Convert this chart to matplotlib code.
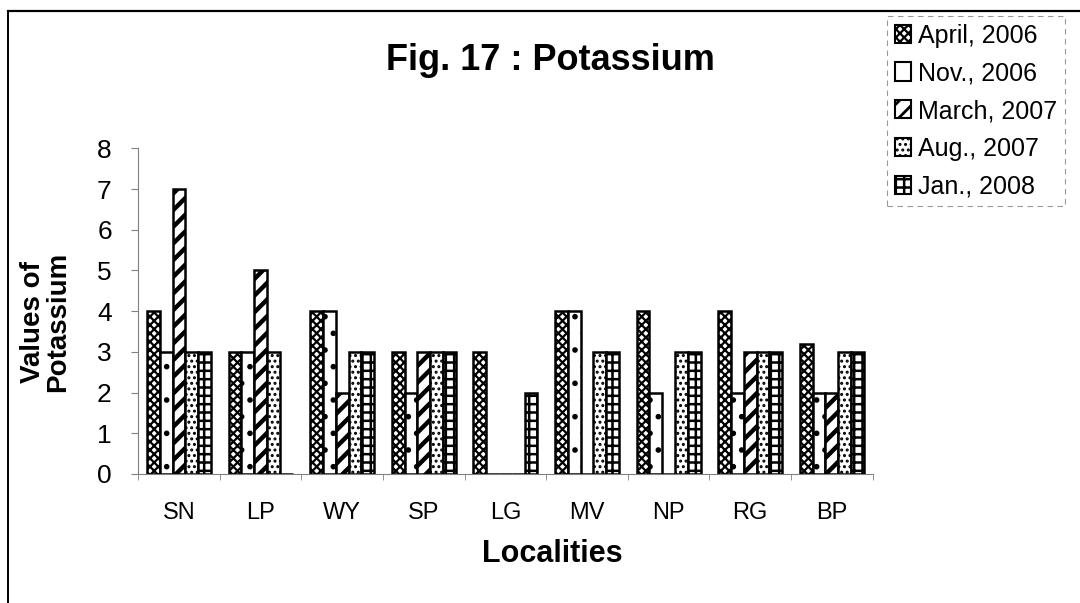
import numpy as np
import matplotlib.pyplot as plt

plt.rcParams['font.family'] = ['Liberation Sans', 'DejaVu Sans']
plt.rcParams['hatch.linewidth'] = 1.6

# data
localities = ['SN', 'LP', 'WY', 'SP', 'LG', 'MV', 'NP', 'RG', 'BP']
series = ['April, 2006', 'Nov., 2006', 'March, 2007', 'Aug., 2007', 'Jan., 2008']
april_2006 = [4, 3, 4, 3, 3, 4, 4, 4, 3.2]
nov_2006 = [3, 3, 4, 2, 0, 4, 2, 2, 2]
march_2007 = [7, 5, 2, 3, 0, 0, 0, 3, 2]
aug_2007 = [3, 3, 3, 3, 0, 3, 3, 3, 3]
jan_2008 = [3, 0, 3, 3, 2, 3, 3, 3, 3]
values = [april_2006, nov_2006, march_2007, aug_2007, jan_2008]
hatches = ['xxxx', '.', '//', '...', '++']
hatch_lw = [1.6, 1.6, 3.2, 1.4, 1.8]

fig = plt.figure(figsize=(10.8, 6.03), dpi=100)
ax = fig.add_axes([0.128, 0.214, 0.680, 0.540])

x = np.arange(len(localities))
w = 0.157
for i, (name, vals) in enumerate(zip(series, values)):
    bars = ax.bar(x + (i - 2) * w, vals, w, label=name, facecolor='white',
                  edgecolor='black', linewidth=1.8, hatch=hatches[i])
    for b in bars:
        try:
            b.set_hatch_linewidth(hatch_lw[i])
        except AttributeError:
            pass

ax.set_xlim(-0.5, len(localities) - 0.5)
ax.set_ylim(0, 8)
ax.set_yticks(range(9))
ax.set_xticks(x)
ax.set_xticklabels(localities, fontsize=17)
ax.set_xticks(np.arange(-0.5, len(localities), 1), minor=True)
ax.tick_params(axis='x', which='major', length=0, pad=20)
ax.tick_params(axis='x', which='minor', length=4, color='gray')
ax.tick_params(axis='y', labelsize=19, length=5, color='gray', pad=14)
for s in ['top', 'right']:
    ax.spines[s].set_visible(False)
ax.spines['left'].set_color('gray')
ax.spines['bottom'].set_color('gray')

fig.text(552 / 1080, 1 - 554 / 603, 'Localities', fontsize=22, fontweight='bold',
         ha='center', va='center')
fig.text(46 / 1080, 1 - 322 / 603, 'Values of\nPotassium', fontsize=20,
         fontweight='bold', ha='center', va='center', rotation=90,
         linespacing=0.95)
fig.text(550 / 1080, 1 - 60 / 603, 'Fig. 17 : Potassium', fontsize=26,
         fontweight='bold', ha='center', va='center')

leg = ax.legend(loc='upper left', bbox_to_anchor=(887 / 1080, 1 - 16 / 603),
                bbox_transform=fig.transFigure, fontsize=18, frameon=True,
                fancybox=False, edgecolor='gray', handlelength=0.65,
                handleheight=0.75, handletextpad=0.3, labelspacing=0.55,
                borderpad=0.3, borderaxespad=0)
leg.get_frame().set_linewidth(0.8)
leg.get_frame().set_linestyle((0, (5, 4)))
# the Nov. swatch is drawn empty in the legend
leg.legend_handles[1].set_hatch(None)
for i, h in enumerate(leg.legend_handles):
    h.set_linewidth(1.5)
    try:
        h.set_hatch_linewidth(min(hatch_lw[i], 2.0))
    except AttributeError:
        pass

# outer frame lines of the scanned page
fig.add_artist(plt.Line2D([8 / 1080, 1.0], [1 - 11 / 603, 1 - 11 / 603],
                          color='black', lw=1.6))
fig.add_artist(plt.Line2D([8 / 1080, 8 / 1080], [0.0, 1 - 11 / 603],
                          color='black', lw=1.4))

fig.savefig('out.png', dpi=100)
